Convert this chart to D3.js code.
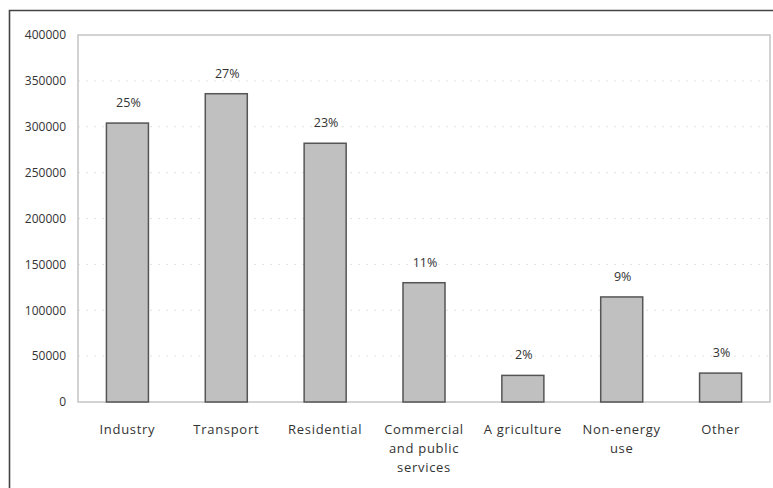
<!DOCTYPE html>
<html>
<head>
<meta charset="utf-8">
<script src="https://cdn.jsdelivr.net/npm/d3@7"></script>
<style>
  body { margin: 0; background: #fff; }
  svg text { font-family: "Open Sans", "DejaVu Sans", sans-serif; fill: #333; }
</style>
</head>
<body>
<div id="chart"></div>
<script>
// datos
const categories = ["Industry", "Transport", "Residential", "Commercial\nand public\nservices", "A griculture", "Non-energy\nuse", "Other"];
const values = [304000, 336000, 282000, 130000, 29000, 114500, 31500];
const shares = ["25%", "27%", "23%", "11%", "2%", "9%", "3%"];
const yTicks = [0, 50000, 100000, 150000, 200000, 250000, 300000, 350000, 400000];

const anchoTotal = 773;
const altoTotal = 488;
const margins = { left: 78, top: 35, right: 3, bottom: 86 };
const ancho = anchoTotal - margins.left - margins.right;
const alto = altoTotal - margins.top - margins.bottom;

const svg = d3.select("#chart")
  .append("svg")
  .attr("width", anchoTotal)
  .attr("height", altoTotal);

// marco exterior (solo arriba e izquierda)
svg.append("path")
  .attr("d", `M9.5,${altoTotal} V10.5 H${anchoTotal}`)
  .attr("fill", "none")
  .attr("stroke", "#444")
  .attr("stroke-width", 1.6);

const g = svg.append("g")
  .attr("transform", `translate(${margins.left}, ${margins.top})`);

const data = categories.map((c, i) => ({ cat: c, val: values[i], pct: shares[i] }));

const x = d3.scaleBand()
  .domain(categories)
  .range([0, ancho])
  .paddingInner(0.575)
  .paddingOuter(0.2875);

const y = d3.scaleLinear()
  .domain([0, 400000])
  .range([alto, 0]);

// rejilla
g.append("g")
  .selectAll("line")
  .data(yTicks.slice(1, -1))
  .join("line")
  .attr("x1", 0)
  .attr("x2", ancho)
  .attr("y1", d => y(d))
  .attr("y2", d => y(d))
  .attr("stroke", "#e2e2e2")
  .attr("stroke-dasharray", "2,6");

// borde del area
g.append("rect")
  .attr("x", 0)
  .attr("y", 0)
  .attr("width", ancho)
  .attr("height", alto)
  .attr("fill", "none")
  .attr("stroke", "#c4c4c4")
  .attr("stroke-width", 1.5);

// eje y
const yAxis = g.append("g")
  .call(d3.axisLeft(y).tickValues(yTicks).tickSize(0).tickPadding(12).tickFormat(d3.format("d")));
yAxis.select(".domain").remove();
yAxis.selectAll("text").attr("font-size", 12).attr("fill", "#333");

// eje x
const xAxis = g.append("g")
  .attr("transform", `translate(0, ${alto})`)
  .call(d3.axisBottom(x).tickSize(0).tickFormat(""));
xAxis.select(".domain").remove();

xAxis.selectAll(".tick")
  .append("text")
  .attr("text-anchor", "middle")
  .attr("font-size", 13)
  .attr("letter-spacing", 0.7)
  .attr("fill", "#333")
  .each(function (d) {
    const lines = d.split("\n");
    d3.select(this).selectAll("tspan")
      .data(lines)
      .join("tspan")
      .attr("x", 0)
      .attr("y", (l, i) => 32 + i * 19)
      .text(l => l);
  });

// barras
g.append("g")
  .selectAll("rect")
  .data(data)
  .join("rect")
  .attr("x", d => x(d.cat))
  .attr("y", d => y(d.val))
  .attr("width", x.bandwidth())
  .attr("height", d => alto - y(d.val))
  .attr("fill", "#c0c0c0")
  .attr("stroke", "#555")
  .attr("stroke-width", 1.5);

// etiquetas de porcentaje
g.append("g")
  .selectAll("text")
  .data(data)
  .join("text")
  .attr("x", d => x(d.cat) + x.bandwidth() / 2 + 1)
  .attr("y", d => y(d.val) - 16)
  .attr("text-anchor", "middle")
  .attr("font-size", 12.5)
  .attr("fill", "#333")
  .text(d => d.pct);
</script>
</body>
</html>
